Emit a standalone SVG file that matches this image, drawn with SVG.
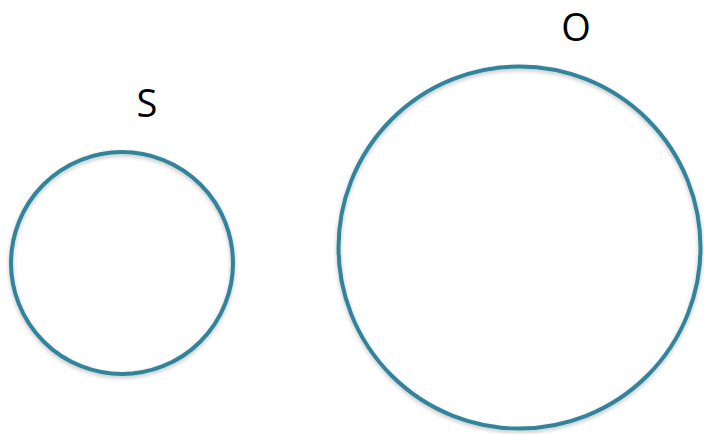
<svg xmlns="http://www.w3.org/2000/svg" width="704" height="434" viewBox="0 0 704 434">
<style>
.set{fill:none;stroke:#31849B;stroke-width:4;filter:url(#sh)}
.lbl{font-family:"Open Sans","Liberation Sans",sans-serif;font-size:38px;fill:#000;text-anchor:middle}
</style>
<defs>
<filter id="sh" x="-10%" y="-10%" width="120%" height="120%">
<feGaussianBlur in="SourceAlpha" stdDeviation="2"/>
<feOffset dx="0" dy="2" result="b"/>
<feComponentTransfer><feFuncA type="linear" slope="0.25"/></feComponentTransfer>
<feMerge><feMergeNode/><feMergeNode in="SourceGraphic"/></feMerge>
</filter>
</defs>
<rect width="704" height="434" fill="#fff"/>
<g id="S">
<circle class="set" cx="122" cy="263" r="111"/>
<text class="lbl" x="147" y="117">S</text>
</g>
<g id="O">
<circle class="set" cx="519.5" cy="247.5" r="181"/>
<text class="lbl" x="576" y="41">O</text>
</g>
<g id="connectors"></g>
</svg>
